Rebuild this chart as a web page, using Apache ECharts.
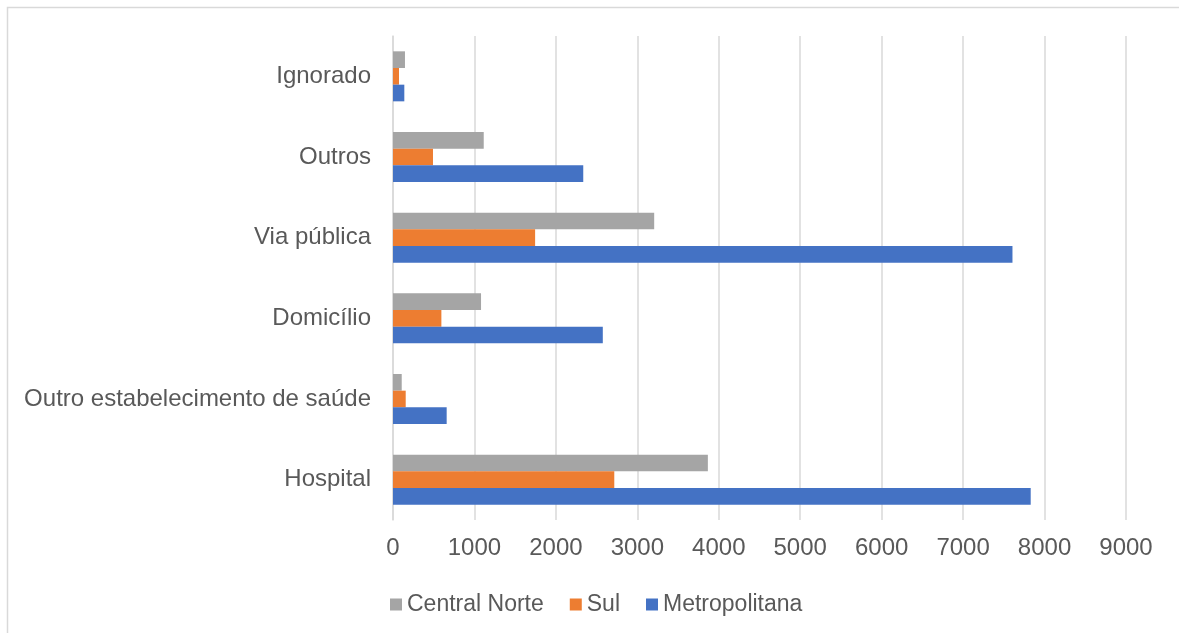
<!DOCTYPE html>
<html>
<head>
<meta charset="utf-8">
<script src="https://cdn.jsdelivr.net/npm/echarts@6/dist/echarts.min.js"></script>
<style>
  html, body { margin: 0; padding: 0; background: #fff; }
  #chart { width: 1179px; height: 633px; }
</style>
</head>
<body>
<div id="chart"></div>
<script>
// categories, bottom to top
const categories = ['Hospital', 'Outro estabelecimento de saúde', 'Domicílio', 'Via pública', 'Outros', 'Ignorado']
const seriesNames = ['Central Norte', 'Sul', 'Metropolitana']
const centralNorte = [3866, 107, 1081, 3207, 1114, 147]
const sul = [2717, 156, 594, 1745, 491, 74]
const metropolitana = [7830, 659, 2576, 7606, 2336, 139]
const xTicks = [0, 9000, 1000] // min, max, step

const colors = ['#A5A5A5', '#ED7D31', '#4472C4']
const font = '"Liberation Sans", Arial, sans-serif'
const textColor = '#595959'

const chart = echarts.init(document.getElementById('chart'))
const option = {
  animation: false,
  color: colors,
  graphic: [
    {
      type: 'rect',
      shape: { x: 7.5, y: 7.5, width: 1300, height: 700 },
      style: { fill: 'none', stroke: '#d9d9d9', lineWidth: 1.5 },
      silent: true
    }
  ],
  grid: {
    left: 393,
    right: 53,
    top: 36,
    bottom: 113,
    containLabel: false
  },
  legend: {
    data: seriesNames,
    left: 385,
    top: 588,
    itemWidth: 12,
    itemHeight: 12,
    itemGap: 26,
    icon: 'rect',
    textStyle: { fontFamily: font, fontSize: 23, color: textColor }
  },
  xAxis: {
    type: 'value',
    min: xTicks[0],
    max: xTicks[1],
    interval: xTicks[2],
    axisLine: { show: false },
    axisTick: { show: false },
    splitLine: { lineStyle: { color: '#d9d9d9', width: 1.5 } },
    axisLabel: { fontFamily: font, fontSize: 24, color: textColor, margin: 16, formatter: (v) => String(v) }
  },
  yAxis: {
    type: 'category',
    data: categories,
    axisLine: { lineStyle: { color: '#d9d9d9', width: 1.5 } },
    axisTick: { show: false },
    axisLabel: { fontFamily: font, fontSize: 24, color: textColor, margin: 22 }
  },
  series: [
    { name: seriesNames[0], type: 'bar', data: centralNorte, barGap: '0%', barCategoryGap: '38%' },
    { name: seriesNames[1], type: 'bar', data: sul, barGap: '0%', barCategoryGap: '38%' },
    { name: seriesNames[2], type: 'bar', data: metropolitana, barGap: '0%', barCategoryGap: '38%' }
  ]
}
chart.setOption(option)
</script>
</body>
</html>
